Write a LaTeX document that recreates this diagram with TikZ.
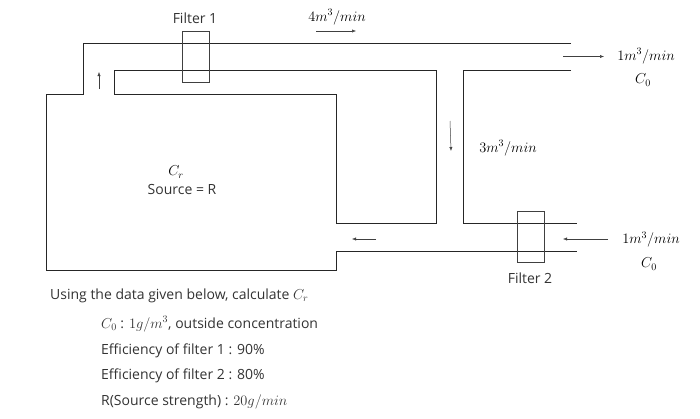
\documentclass[tikz,border=0pt]{standalone}
\usepackage{fontspec}
\setmainfont{Open Sans}
\usetikzlibrary{arrows.meta}
\tikzset{
  x=1pt,y=-1pt,
  pipe/.style={draw=black!85,line width=1pt,line cap=butt,line join=miter},
  filterbox/.style={draw=black!75,line width=1pt,fill=none,minimum width=27pt,minimum height=51pt,inner sep=0pt},
  flow/.style={draw=black!75,line width=0.5pt,-{Latex[length=4pt,width=3.2pt]}},
  lbl/.style={text=black!80,font=\fontsize{14}{16}\selectfont,inner sep=0pt,anchor=center},
  leftlbl/.style={lbl,anchor=west},
  mathlbl/.style={lbl,text=black,font=\fontsize{13.6}{15}\selectfont}
}
\begin{document}
\begin{tikzpicture}
\useasboundingbox (0,0) rectangle (700,418);
% room and recirculation duct, outer wall
\draw[pipe] (571,43) -- (83,43) -- (83,94) -- (46,94) -- (46,270) -- (336,270) -- (336,251) -- (577,251);
% inner wall
\draw[pipe] (571,70) -- (463,70) -- (463,223.5) -- (577,223.5);
\draw[pipe] (114,94) -- (114,70) -- (436,70) -- (436,223.5) -- (336,223.5) -- (336,94) -- cycle;
% filters
\node[filterbox] (f1) at (195.5,56.5) {};
\node[filterbox] (f2) at (531,237) {};
% flow arrow ends
\coordinate (a1s) at (99,89); \coordinate (a1e) at (99,72);
\coordinate (a2s) at (316,31); \coordinate (a2e) at (356,31);
\coordinate (a3s) at (563,56.5); \coordinate (a3e) at (604,56.5);
\coordinate (a4s) at (450,121); \coordinate (a4e) at (451,151);
\coordinate (a5s) at (376,239); \coordinate (a5e) at (352,239);
\coordinate (a6s) at (608,239); \coordinate (a6e) at (563,239);
\draw[flow] (a1s) -- (a1e);
\draw[flow] (a2s) -- (a2e);
\draw[flow] (a3s) -- (a3e);
\draw[flow] (a4s) -- (a4e);
\draw[flow] (a5s) -- (a5e);
\draw[flow] (a6s) -- (a6e);
% labels
\node[lbl] (t1) at (195,18) {Filter 1};
\node[lbl] (t2) at (530,278) {Filter 2};
\node[mathlbl] (q1) at (337,17) {$4m^3/min$};
\node[mathlbl] (q2) at (646,56) {$1m^3/min$};
\node[mathlbl] (c1) at (643,80) {$C_0$};
\node[mathlbl] (q3) at (508,148) {$3m^3/min$};
\node[mathlbl] (q4) at (651,239.5) {$1m^3/min$};
\node[mathlbl] (c2) at (649,264) {$C_0$};
\node[mathlbl] (cr) at (176,172) {$C_r$};
\node[lbl] (src) at (182,189.5) {Source = R};
\node[leftlbl] (l1) at (50,295.5) {Using the data given below, calculate $C_r$};
\node[leftlbl] (l2) at (101,324) {$C_0$ : $1g/m^3$, outside concentration};
\node[leftlbl] (l3) at (101,350.5) {Efficiency of filter 1 : 90\%};
\node[leftlbl] (l4) at (101,375.5) {Efficiency of filter 2 : 80\%};
\node[leftlbl] (l5) at (101,401.5) {R(Source strength) : $20g/min$};
\end{tikzpicture}
\end{document}
